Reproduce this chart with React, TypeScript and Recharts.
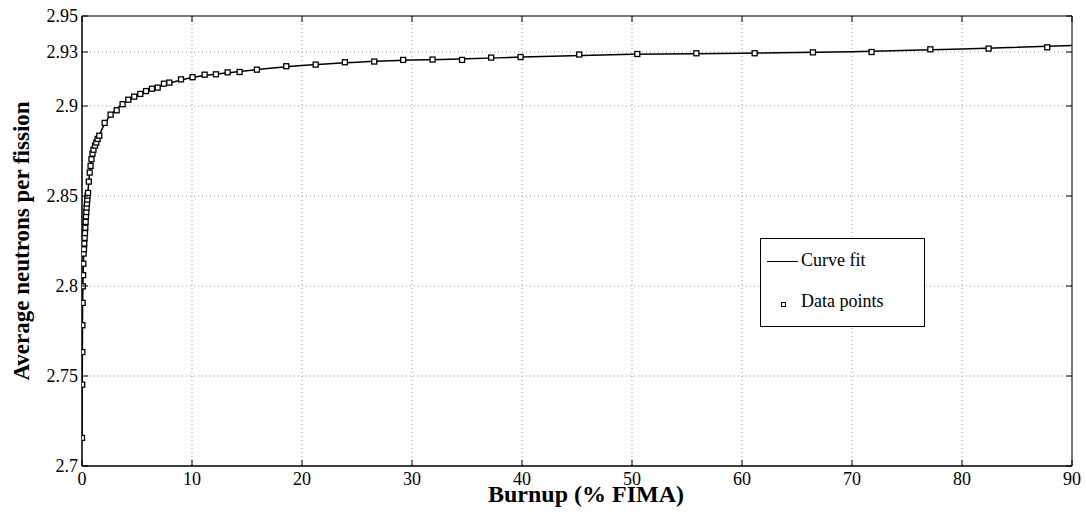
import React from 'react';
import {
  ComposedChart,
  Line,
  Scatter,
  XAxis,
  YAxis,
  CartesianGrid,
  ReferenceArea,
} from 'recharts';

// data points
const pointBurnup = [
  0, 0.02, 0.03, 0.04, 0.06, 0.08, 0.1, 0.12, 0.15, 0.18, 0.21, 0.24, 0.27, 0.3,
  0.33, 0.36, 0.39, 0.42, 0.45, 0.48, 0.51, 0.55, 0.62, 0.7, 0.78, 0.86, 0.95,
  1.04, 1.18, 1.3, 1.42, 1.57, 2.06, 2.6, 3.15, 3.69, 4.21, 4.75, 5.3, 5.82,
  6.36, 6.88, 7.45, 7.94, 9.0, 10.05, 11.15, 12.18, 13.24, 14.33, 15.9, 18.57,
  21.24, 23.9, 26.57, 29.2, 31.87, 34.55, 37.2, 39.87, 45.2, 50.48, 55.85,
  61.15, 66.45, 71.78, 77.12, 82.42, 87.75,
];
const pointNu = [
  2.7156, 2.7452, 2.7633, 2.7782, 2.7906, 2.7998, 2.806, 2.8124, 2.818, 2.8204,
  2.8236, 2.8267, 2.8294, 2.8324, 2.8356, 2.8387, 2.8411, 2.8436, 2.8458, 2.848,
  2.8502, 2.8517, 2.858, 2.863, 2.8667, 2.8704, 2.8735, 2.8757, 2.878, 2.8797,
  2.8817, 2.8835, 2.8906, 2.8952, 2.8976, 2.901, 2.9035, 2.9052, 2.9067, 2.9083,
  2.9096, 2.9102, 2.9124, 2.913, 2.9148, 2.916, 2.9174, 2.9176, 2.9187, 2.9189,
  2.9202, 2.9221, 2.923, 2.9243, 2.9247, 2.9256, 2.9258, 2.9256, 2.9269, 2.9272,
  2.9286, 2.9289, 2.9293, 2.9293, 2.9298, 2.93, 2.9315, 2.9319, 2.9326,
];

// curve fit
const fitBurnup = [
  0, 0.02, 0.05, 0.1, 0.2, 0.3, 0.4, 0.5, 0.7, 1, 1.5, 2, 3, 4, 5, 6, 8, 10, 13,
  16, 20, 25, 30, 35, 40, 50, 60, 70, 80, 90,
];
const fitNu = [
  2.7156, 2.745, 2.784, 2.806, 2.8225, 2.8324, 2.842, 2.8495, 2.863, 2.8745,
  2.8825, 2.8895, 2.8975, 2.9025, 2.906, 2.9088, 2.9128, 2.9158, 2.9183, 2.9203,
  2.9225, 2.9243, 2.9255, 2.9262, 2.9272, 2.9287, 2.9293, 2.9302, 2.9316, 2.9336,
];

const xTicks = [0, 10, 20, 30, 40, 50, 60, 70, 80, 90];
const yTicks = [2.7, 2.75, 2.8, 2.85, 2.9, 2.93, 2.95];
const yTickLabels = ['2.7', '2.75', '2.8', '2.85', '2.9', '2.93', '2.95'];

const points = pointBurnup.map((x, i) => ({ x, y: pointNu[i] }));
const fit = fitBurnup.map((x, i) => ({ x, y: fitNu[i] }));

const FONT = '"Liberation Serif", "Times New Roman", serif';
const W = 1086;
const H = 514;
const TOP = 16;
const RIGHT = 1072;

const XTick = (props: any) => {
  const { x, y, payload } = props;
  return (
    <g>
      <line x1={x} y1={y} x2={x} y2={y - 6} stroke="#000" />
      <line x1={x} y1={TOP} x2={x} y2={TOP + 6} stroke="#000" />
      <text x={x} y={y + 19} textAnchor="middle" fontSize={18} fontFamily={FONT} fill="#000">
        {payload.value}
      </text>
    </g>
  );
};

const YTick = (props: any) => {
  const { x, y, payload } = props;
  const idx = yTicks.indexOf(payload.value);
  return (
    <g>
      <line x1={x} y1={y} x2={x + 6} y2={y} stroke="#000" />
      <line x1={RIGHT - 6} y1={y} x2={RIGHT} y2={y} stroke="#000" />
      <text x={x - 4} y={y + 6} textAnchor="end" fontSize={18} fontFamily={FONT} fill="#000">
        {idx >= 0 ? yTickLabels[idx] : payload.value}
      </text>
    </g>
  );
};

const Square = (props: any) => {
  const { cx, cy } = props;
  return <rect x={cx - 2.5} y={cy - 2.5} width={5} height={5} fill="#fff" stroke="#000" strokeWidth={1.3} />;
};

const LegendBox = () => (
  <div
    style={{
      position: 'absolute',
      left: 760,
      top: 238,
      width: 163,
      height: 87,
      border: '1.5px solid #000',
      background: '#fff',
      fontFamily: FONT,
      fontSize: 18,
      color: '#000',
    }}
  >
    <div style={{ position: 'absolute', left: 6, top: 22, width: 31, height: 0, borderTop: '1.5px solid #000' }} />
    <div style={{ position: 'absolute', left: 40, top: 11 }}>Curve fit</div>
    <div
      style={{
        position: 'absolute',
        left: 20,
        top: 63,
        width: 3,
        height: 3,
        border: '1.3px solid #000',
        background: '#fff',
      }}
    />
    <div style={{ position: 'absolute', left: 40, top: 52 }}>Data points</div>
  </div>
);

export default function App() {
  return (
    <div style={{ position: 'absolute', left: 0, top: 0, width: W, height: H, background: '#fff' }}>
      <ComposedChart width={W} height={H} margin={{ top: TOP, right: W - RIGHT, bottom: 0, left: 0 }}>
        <CartesianGrid stroke="#999" strokeDasharray="1 3" />
        <XAxis
          dataKey="x"
          type="number"
          domain={[0, 90]}
          ticks={xTicks}
          interval={0}
          height={48}
          tickSize={0}
          tickMargin={0}
          tick={<XTick />}
          axisLine={{ stroke: '#000' }}
          allowDataOverflow
          label={({ viewBox }: any) => (
            <text
              x={viewBox.x + viewBox.width / 2 + 9}
              y={viewBox.y + 36}
              textAnchor="middle"
              fontSize={24}
              fontWeight="bold"
              fontFamily={FONT}
              fill="#000"
            >
              Burnup (% FIMA)
            </text>
          )}
        />
        <YAxis
          dataKey="y"
          type="number"
          domain={[2.7, 2.95]}
          ticks={yTicks}
          interval={0}
          width={82}
          tickSize={0}
          tickMargin={0}
          tick={<YTick />}
          axisLine={{ stroke: '#000' }}
          allowDataOverflow
          label={({ viewBox }: any) => {
            const cy = viewBox.y + viewBox.height / 2;
            return (
              <text
                x={29}
                y={cy}
                transform={`rotate(-90 29 ${cy})`}
                textAnchor="middle"
                fontSize={23}
                fontWeight="bold"
                fontFamily={FONT}
                fill="#000"
              >
                Average neutrons per fission
              </text>
            );
          }}
        />
        <ReferenceArea x1={0} x2={90} y1={2.7} y2={2.95} fill="none" stroke="#000" strokeWidth={1} ifOverflow="visible" />
        <Line
          data={fit}
          dataKey="y"
          type="monotone"
          stroke="#000"
          strokeWidth={1.5}
          dot={false}
          isAnimationActive={false}
          name="Curve fit"
        />
        <Scatter data={points} dataKey="y" shape={<Square />} isAnimationActive={false} name="Data points" />
      </ComposedChart>
      <LegendBox />
    </div>
  );
}
